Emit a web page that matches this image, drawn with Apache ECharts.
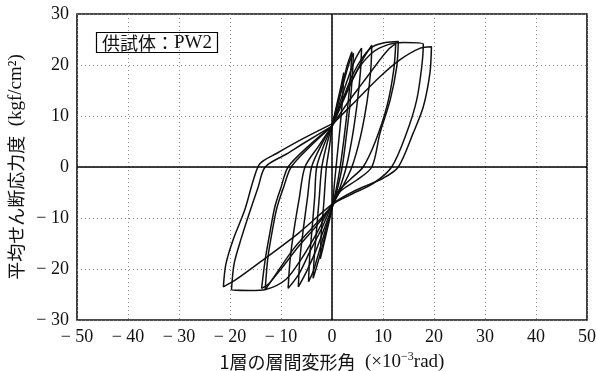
<!DOCTYPE html>
<html>
<head>
<meta charset="utf-8">
<script src="https://cdn.jsdelivr.net/npm/echarts@6/dist/echarts.min.js"></script>
<style>
  html, body { margin: 0; padding: 0; background: #fff; }
  #chart { width: 596px; height: 371px; }
</style>
</head>
<body>
<div id="chart"></div>
<script>
// axis ranges (x: 10^-3 rad, y: kgf/cm2)
const xRange = [-50, 50]
const yRange = [-30, 30]
const tickStep = 10

// hysteresis loops, each one closed: pinch(+) -> +peak -> pinch(-) -> -peak -> pinch(+)
const loop2 = [[0, 8], [1, 12.5], [1.8, 16], [2.3, 18.5], [2.1, 14], [1.6, 8], [1, 2], [0.5, -3], [0, -8],
  [-1, -12.5], [-1.8, -16], [-2.3, -18], [-2.1, -13], [-1.6, -7], [-1.1, 0], [-0.5, 4], [0, 8]]
const loop4a = [[0, 8], [1, 12], [2, 16], [3, 20], [3.9, 22.6], [3.7, 19], [3.2, 13], [2.4, 6], [1.6, 0], [0.8, -4.5], [0, -8],
  [-1, -12], [-2, -16], [-3, -19.5], [-3.7, -21.8], [-3.5, -18], [-3, -12], [-2.5, -6], [-2, 0], [-1, 4.5], [0, 8]]
const loop4b = [[0, 8], [1.2, 12.5], [2.4, 17], [3.4, 20.5], [4.2, 22.3], [4.0, 18], [3.5, 12], [2.8, 6], [2.0, 0], [1, -4.5], [0, -8],
  [-1.2, -12], [-2.5, -16.5], [-3.7, -20.5], [-4.6, -22.5], [-4.4, -18], [-3.9, -12], [-3.4, -6], [-3, 0], [-1.5, 4.5], [0, 8]]
const loop6 = [[0, 8], [1.5, 12.5], [3, 17], [4.5, 21], [5.8, 23.3], [5.6, 19], [5, 13], [4, 6], [2.8, 0], [1.4, -4.5], [0, -8],
  [-1.5, -12], [-3.2, -16.5], [-5, -20.5], [-6.6, -23.5], [-6.3, -18], [-5.6, -12], [-4.8, -6], [-4, 0], [-2, 4.5], [0, 8]]
const loop8 = [[0, 8], [2, 12.5], [4, 17], [6, 21], [7.8, 23.9], [7.6, 19], [6.9, 13], [5.6, 6], [3.9, 0], [2, -4], [0, -7.5],
  [-2, -12], [-4.3, -16.5], [-6.5, -21], [-8.6, -23.8], [-8.2, -18], [-7.4, -12], [-6.4, -6], [-5.3, 0], [-2.7, 4], [0, 8]]
const loop13a = [[0, 8], [2, 13], [4, 18], [6, 21.5], [8, 23.6], [10.5, 24.4], [13, 24.6], [12.7, 19.7], [11.4, 13.1], [9.4, 6.6],
  [7.8, 0], [4.8, -2.6], [1.6, -4.8], [0, -7.5], [-3, -11.5], [-6.5, -15.5], [-10, -20], [-12.5, -23], [-13.8, -23.8],
  [-13.1, -18.2], [-12.2, -13], [-11.2, -7.8], [-10, -4], [-8.6, 0], [-4.5, 4.2], [0, 8]]
const loop13b = [[0, 8], [3, 12.5], [6, 16.5], [9, 20.5], [11, 23], [12.5, 24.2], [12.1, 19], [10.8, 12], [8.5, 5], [6.1, 0],
  [3.5, -2.5], [1, -5], [0, -7.5], [-3.5, -11.5], [-7.5, -16], [-11, -21], [-13.1, -24.1], [-12.6, -18], [-11.8, -13],
  [-10.8, -8], [-9.5, -4], [-8, 0], [-4, 4.3], [0, 8]]
const loop20b = [[0, 8], [2.5, 14], [5, 19], [8, 22.5], [11, 24], [14, 24.4], [17.9, 24.1], [17.6, 19.7], [16.6, 13.1], [14.6, 6.6],
  [11.7, 0], [8.1, -3.2], [3.5, -5.5], [0, -7.5], [-3, -13], [-6, -18], [-9, -22], [-13, -24], [-16, -24.2], [-19.7, -24.1],
  [-19.2, -19], [-17.8, -14], [-16.2, -9], [-14.5, -4], [-13.1, 0], [-9, 2.5], [-5, 5], [0, 8]]
const loop20a = [[0.3, 8.6], [4.8, 13.1], [9.4, 17.7], [13.3, 21], [17.3, 23.3], [19.5, 23.6], [19.2, 18.4], [17.9, 11.8], [15.9, 6.6],
  [13, 0], [10, -2.2], [4.2, -4.8], [0.3, -7.1], [-6.6, -13], [-13.1, -17.9], [-19, -22.2], [-21.3, -23.5], [-20.8, -19],
  [-19.4, -14.3], [-17.1, -8.4], [-15.4, -2.5], [-14.1, 0.7], [-10.8, 2.7], [-5.6, 5.6], [0.3, 8.6]]

const loops = [loop2, loop4a, loop4b, loop6, loop8, loop13a, loop13b, loop20b, loop20a]

const serif = 'Liberation Serif'
const cjk = 'Noto Sans CJK JP'
const minus = v => (v < 0 ? '\u2212 ' + Math.abs(v) : String(v))

const series = loops.map(d => ({
  type: 'line',
  data: d,
  smooth: 0.3,
  showSymbol: false,
  silent: true,
  lineStyle: { color: '#111', width: 1.5 }
}))
// the two zero lines through the frame
series.push({
  type: 'line',
  data: [],
  markLine: {
    silent: true,
    symbol: 'none',
    label: { show: false },
    lineStyle: { color: '#000', width: 1.5, type: 'solid' },
    data: [{ xAxis: 0 }, { yAxis: 0 }]
  }
})

const option = {
  animation: false,
  backgroundColor: '#fff',
  title: {
    text: '{a|供試体：}{b|PW2}',
    left: 96,
    top: 32,
    padding: [1, 6, 0, 6],
    borderColor: '#000',
    borderWidth: 1.2,
    textStyle: {
      fontWeight: 'normal',
      rich: {
        a: { fontFamily: cjk, fontSize: 18, fontWeight: 'normal', color: '#111', lineHeight: 20 },
        b: { fontFamily: serif, fontSize: 19, fontWeight: 'normal', color: '#111', lineHeight: 20 }
      }
    }
  },
  grid: {
    left: 77, top: 14, width: 510, height: 306,
    outerBoundsMode: 'none',
    show: true, borderColor: '#111', borderWidth: 1.6
  },
  xAxis: {
    type: 'value',
    min: xRange[0], max: xRange[1], interval: tickStep,
    axisLine: { show: false },
    axisTick: { show: false },
    splitLine: { lineStyle: { color: '#888', type: [1, 3], width: 1 } },
    axisLabel: { formatter: minus, fontFamily: serif, fontSize: 18, color: '#111', margin: 8 },
    name: '{a|1層の層間変形角}{b|  (×10}{c|−3}{b|rad)}',
    nameLocation: 'middle',
    nameGap: 29,
    nameTextStyle: {
      rich: {
        a: { fontFamily: cjk, fontSize: 18, color: '#111', lineHeight: 22 },
        b: { fontFamily: serif, fontSize: 19, color: '#111', lineHeight: 22 },
        c: { fontFamily: serif, fontSize: 12, color: '#111', lineHeight: 12, verticalAlign: 'top' }
      }
    }
  },
  yAxis: {
    type: 'value',
    min: yRange[0], max: yRange[1], interval: tickStep,
    axisLine: { show: false },
    axisTick: { show: false },
    splitLine: { lineStyle: { color: '#888', type: [1, 3], width: 1 } },
    axisLabel: { formatter: minus, fontFamily: serif, fontSize: 18, color: '#111', margin: 8 },
    name: '{a|平均せん断応力度}{b|  (kgf/cm²)}',
    nameLocation: 'middle',
    nameGap: 48,
    nameTextStyle: {
      rich: {
        a: { fontFamily: cjk, fontSize: 18, color: '#111' },
        b: { fontFamily: serif, fontSize: 19, color: '#111' }
      }
    }
  },
  series: series
}

echarts.init(document.getElementById('chart')).setOption(option)
</script>
</body>
</html>
